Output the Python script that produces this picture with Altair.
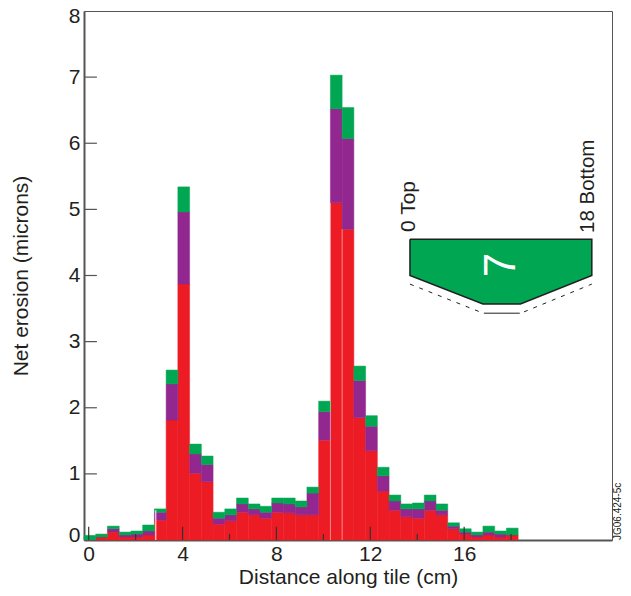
import altair as alt
import pandas as pd

# Upper edge of each stacked band, per 0.5 cm bin
red = [0, .045, .12, .045, .045, .076, .30, 1.815, 3.87, 1.01, .88, .24, .29, .42, .38, .33, .42, .41, .38, .38, 1.51,
       5.10, 4.70, 1.85, 1.35, .74, .45, .35, .33, .45, .38, .17, .09, .045, .076, .045, .076]
purple = [0, .045, .17, .076, .09, .136, .42, 2.36, 4.96, 1.30, 1.14, .33, .38, .545, .47, .42, .56, .545, .50, .71, 1.94,
          6.52, 6.07, 2.41, 1.72, .97, .59, .47, .47, .59, .45, .21, .12, .076, .12, .09, .076]
green = [.07, .09, .21, .12, .136, .227, .47, 2.57, 5.34, 1.45, 1.27, .42, .47, .635, .545, .51, .635, .635, .59, .80, 2.10,
         7.03, 6.54, 2.63, 1.88, 1.10, .68, .545, .56, .68, .545, .26, .17, .12, .21, .136, .18]
x_ticks = [0, 4, 8, 12, 16]
x_minor = [2, 6, 10, 14, 18]
y_ticks = [0, 1, 2, 3, 4, 5, 6, 7, 8]

# Inset tile outline, in chart units
tile_x = [13.69, 16.8, 18.4, 21.44]
tile_low = [4.0, 3.57, 3.57, 4.0]
tile_top = [4.55, 4.55, 4.55, 4.55]
outline_x = [13.69, 13.69, 16.8, 18.4, 21.44, 21.44, 13.69]
outline_y = [4.55, 4.0, 3.57, 3.57, 4.0, 4.55, 4.55]
dash_left_x = [13.69, 16.67]
dash_left_y = [3.87, 3.45]
dash_right_x = [18.55, 21.44]
dash_right_y = [3.45, 3.87]
flat_x = [16.84, 18.37]
flat_y = [3.43, 3.43]

INK = "#231F20"
FONT = "Liberation Sans"
X0, X1 = -0.2, 22.3
xs = alt.Scale(domain=[X0, X1], nice=False, zero=False)
ys = alt.Scale(domain=[0, 8], nice=False, zero=False)

x_axis = alt.Axis(values=x_ticks, grid=False, ticks=False, labelPadding=3, titlePadding=2, labelFontSize=21,
                  titleFontSize=21, labelFont=FONT, titleFont=FONT, labelColor=INK, titleColor=INK,
                  titleFontWeight="normal", domainColor="#555555", domainWidth=2, labelOverlap=False,
                  labelFlush=False, format="d", title="Distance along tile (cm)")
y_axis = alt.Axis(values=y_ticks, grid=False, ticks=False, labelPadding=4, titlePadding=37, labelFontSize=21,
                  titleFontSize=21, labelFont=FONT, titleFont=FONT, labelColor=INK, titleColor=INK,
                  titleFontWeight="normal", domainColor="#555555", domainWidth=2, labelOverlap=False,
                  labelFlush=False, format="d", title="Net erosion (microns)",
                  labelOffset=alt.expr("datum.value === 8 ? 5 : (datum.value === 0 ? -5 : 0)"))


def X(f):
    return alt.X(f"{f}:Q", scale=xs, axis=x_axis)


def Y(f):
    return alt.Y(f"{f}:Q", scale=ys, axis=y_axis)


starts = [X0 + 0.5 * i for i in range(len(red))]
bars = pd.DataFrame({"a": starts, "b": [s + 0.5 for s in starts], "red": red, "purple": purple, "green": green,
                     "zero": [0] * len(red)})


def band(low, high, colour):
    return alt.Chart(bars).mark_bar(color=colour, stroke=colour, strokeWidth=0.5).encode(
        x=X("a"), x2="b:Q", y=Y(low), y2=f"{high}:Q")


seams = alt.Chart(pd.DataFrame({"x": [10.3, 10.8], "t": [5.10, 4.70], "z": [0, 0]})).mark_rule(
    color="white", opacity=0.45, strokeWidth=1).encode(x=X("x"), y=Y("t"), y2="z:Q")
seam2 = alt.Chart(pd.DataFrame({"x": [2.86], "t": [0.45], "z": [0]})).mark_rule(
    color="white", strokeWidth=1).encode(x=X("x"), y=Y("t"), y2="z:Q")

all_x = sorted(x_ticks + x_minor)
xt = alt.Chart(pd.DataFrame({"x": all_x, "t": [.2 if v in x_ticks else .09 for v in all_x],
                             "z": [0] * len(all_x)})).mark_rule(
    color="#333333", strokeWidth=1.2).encode(x=X("x"), y=Y("t"), y2="z:Q")
yt = alt.Chart(pd.DataFrame({"y": y_ticks[1:-1], "a": [X0] * 7, "b": [X0 + 0.55] * 7})).mark_rule(
    color="#555555", strokeWidth=1.2).encode(y=Y("y"), x=X("a"), x2="b:Q")

tile = alt.Chart(pd.DataFrame({"x": tile_x, "lo": tile_low, "hi": tile_top})).mark_area(
    color="#00A651", opacity=1).encode(x=X("x"), y=Y("lo"), y2="hi:Q")
outline = alt.Chart(pd.DataFrame({"x": outline_x, "y": outline_y, "o": list(range(len(outline_x)))})).mark_line(
    color=INK, strokeWidth=1.5).encode(x=X("x"), y=Y("y"), order="o:Q")


def seg(px, py, dash=None):
    kw = {"strokeDash": dash} if dash else {}
    return alt.Chart(pd.DataFrame({"x": px, "y": py})).mark_line(color=INK, strokeWidth=1, **kw).encode(
        x=X("x"), y=Y("y"))


def label(text, x, y, size, colour=INK, angle=270, baseline="middle", align="left"):
    return alt.Chart(pd.DataFrame({"t": [text]})).mark_text(
        font=FONT, fontSize=size, color=colour, angle=angle, align=align, baseline=baseline).encode(
        text="t:N", x=alt.value(x), y=alt.value(y))


chart = alt.layer(
    band("zero", "red", "#ED1C24"),
    band("red", "purple", "#92278F"),
    band("purple", "green", "#00A651"),
    seams, seam2, xt, yt,
    tile, outline,
    seg(dash_left_x, dash_left_y, [4, 6]),
    seg(dash_right_x, dash_right_y, [4, 6]),
    seg(flat_x, flat_y),
    label("7", 418, 254, 44, "white", align="center"),
    label("0 Top", 325, 221, 21),
    label("18 Bottom", 504, 222, 20.5),
    label("JG06.424-5c", 534, 529, 10),
).properties(
    width=528, height=529,
    background="white",
    autosize=alt.AutoSizeParams(type="none"),
    padding={"left": 76, "top": 3, "right": 11, "bottom": 48},
).configure_view(stroke="#555555", strokeWidth=1)

chart.save("out.html", embed_options={"renderer": "svg", "actions": False})
